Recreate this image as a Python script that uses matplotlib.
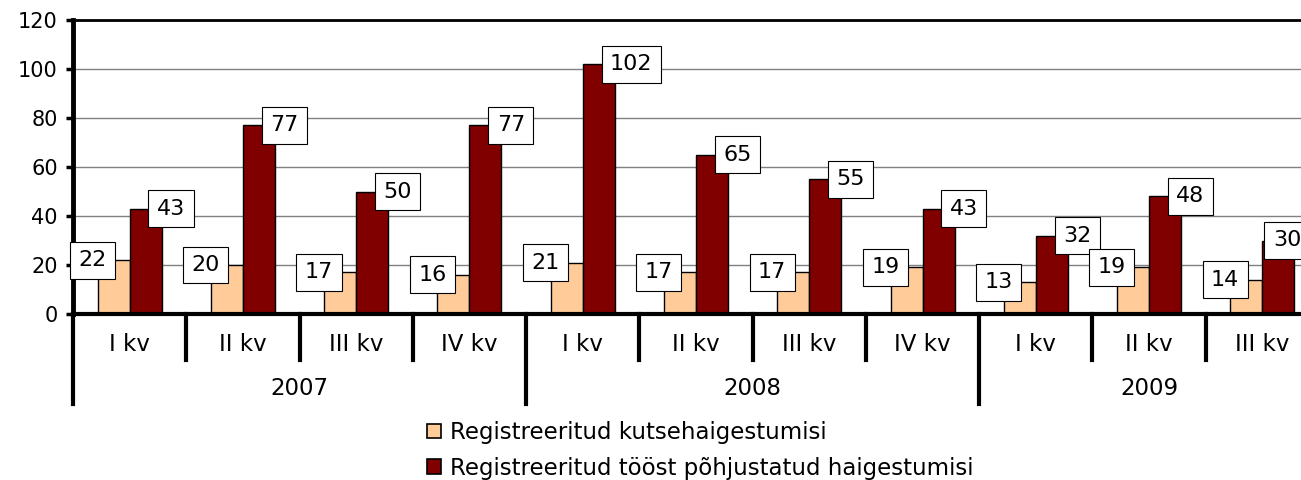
import matplotlib
matplotlib.use("Agg")
import matplotlib.pyplot as plt
import matplotlib.transforms as mtransforms
from matplotlib.patches import Patch
import numpy as np

# data
quarters = ["I kv", "II kv", "III kv", "IV kv",
            "I kv", "II kv", "III kv", "IV kv",
            "I kv", "II kv", "III kv"]
years = ["2007", "2008", "2009"]
year_groups = [4, 4, 3]          # quarters shown per year
kutse = [22, 20, 17, 16, 21, 17, 17, 19, 13, 19, 14]
toost = [43, 77, 50, 77, 102, 65, 55, 43, 32, 48, 30]
series_names = ["Registreeritud kutsehaigestumisi",
                "Registreeritud tööst põhjustatud haigestumisi"]

LIGHT = "#FFCC99"
DARK = "#800000"
FS_TICK = 15
FS_LAB = 16
FS_CAT = 16.5

plt.rcParams['font.family'] = ['DejaVu Sans']

W, H = 1301, 480
fig = plt.figure(figsize=(W / 100, H / 100), dpi=100)
# axes run a little past the right edge, as in the original
ax = fig.add_axes([73 / W, 1 - 314 / H, 1246 / W, 294 / H])

n = len(quarters)
x = np.arange(n)
bw = 0.2825
light_x = x + 0.5 - bw / 2
dark_x = x + 0.5 + bw / 2
ax.bar(light_x, kutse, width=bw, color=LIGHT, edgecolor="black", linewidth=1.0, zorder=3)
ax.bar(dark_x, toost, width=bw, color=DARK, edgecolor="black", linewidth=1.0, zorder=3)

ax.set_xlim(0, n)
ax.set_ylim(0, 120)
ax.set_yticks(np.arange(0, 121, 20))
ax.tick_params(axis="y", labelsize=FS_TICK, length=5, width=2.5, pad=6, direction="out")
ax.set_xticks([])
ax.yaxis.grid(True, color="#808080", linewidth=1.0, zorder=0)
ax.set_axisbelow(True)
for s in ["right", "bottom"]:
    ax.spines[s].set_visible(False)
ax.spines["top"].set_linewidth(2)
ax.spines["left"].set_linewidth(3.5)
ax.axhline(0, color="black", linewidth=3, zorder=4, clip_on=False)

# data labels in white boxes, light ones end at the bar middle, dark ones start there
PAD = 0.38
box = dict(boxstyle="square,pad=%s" % PAD, facecolor="white", edgecolor="black", linewidth=0.8)
padpt = PAD * FS_LAB
chart_right = 1318  # chart area edge (beyond the visible picture)
for i in range(n):
    ax.annotate(str(kutse[i]), (light_x[i], kutse[i]), xytext=(-padpt + 1, 0),
                textcoords="offset points", fontsize=FS_LAB, ha="right", va="center",
                bbox=box, zorder=5, annotation_clip=False)
    # keep the box inside the chart area like the spreadsheet does
    left_px = ax.transData.transform((dark_x[i], 0))[0] / fig.dpi * 72 + padpt + 2
    width_pt = len(str(toost[i])) * 0.636 * FS_LAB + 2 * padpt
    shift = min(0, chart_right * 0.72 - (left_px + width_pt))
    ax.annotate(str(toost[i]), (dark_x[i], toost[i]), xytext=(padpt + 2 + shift, 0),
                textcoords="offset points", fontsize=FS_LAB, ha="left", va="center",
                bbox=box, zorder=5, annotation_clip=False)

# two level category axis
trans = mtransforms.blended_transform_factory(ax.transData, ax.transAxes)
for i in range(n):
    ax.text(i + 0.5, -0.105, quarters[i], fontsize=FS_CAT, ha="center", va="center", transform=trans)
year_starts = np.cumsum([0] + year_groups[:-1])
for i in range(1, n):
    if i in year_starts:
        continue
    ax.plot([i, i], [0, -0.157], transform=trans, color="black", linewidth=3, clip_on=False)
for k, ys in enumerate(year_starts):
    ax.plot([ys, ys], [0, -0.306], transform=trans, color="black", linewidth=3, clip_on=False)
    ax.text(ys + year_groups[k] / 2, -0.2535, years[k], fontsize=FS_CAT, ha="center", va="center",
            transform=trans)

handles = [Patch(facecolor=LIGHT, edgecolor="black", linewidth=1.2),
           Patch(facecolor=DARK, edgecolor="black", linewidth=1.2)]
fig.legend(handles, series_names, loc="upper left", bbox_to_anchor=(427 / W, 1 - 421 / H),
           frameon=False, fontsize=FS_CAT, handlelength=0.62, handleheight=0.62,
           handletextpad=0.4, labelspacing=0.55, borderpad=0, borderaxespad=0)

fig.savefig("out.png", dpi=100)
